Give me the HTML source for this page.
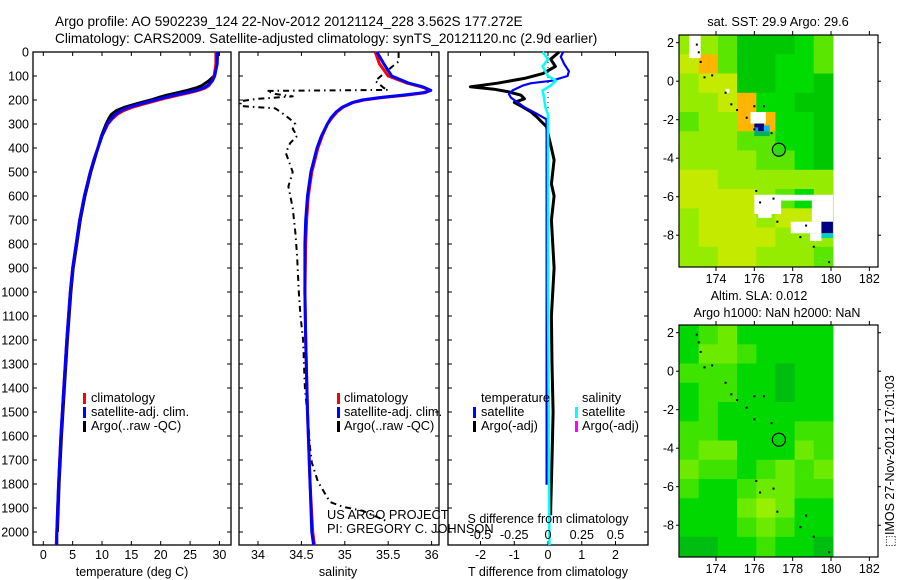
<!DOCTYPE html>
<html><head><meta charset="utf-8">
<style>
html,body{margin:0;padding:0;background:#fff;}
svg{display:block;font-family:"Liberation Sans",sans-serif;}
text{fill:#000;}
</style></head>
<body>
<svg id="fig" width="900" height="580" viewBox="0 0 900 580" xmlns="http://www.w3.org/2000/svg">
<text x="55" y="26" font-size="13.6">Argo profile: AO 5902239_124 22-Nov-2012 20121124_228 3.562S 177.272E</text>
<text x="55" y="43" font-size="13.6">Climatology: CARS2009. Satellite-adjusted climatology: synTS_20121120.nc (2.9d earlier)</text>
<g id="g"></g>
</svg>
<script>
// ---------- DATA ----------
const depthTicks = [0,100,200,300,400,500,600,700,800,900,1000,1100,1200,1300,1400,1500,1600,1700,1800,1900,2000];
const tempTicks = [0,5,10,15,20,25,30];
const salTicks = [34,34.5,35,35.5,36];
const salTickLabels = ["34","34.5","35","35.5","36"];
const tdiffTicks = [-2,-1,0,1,2];
const sdiffTicks = [-0.5,-0.25,0,0.25,0.5];
const sdiffTickLabels = ["-0.5","-0.25","0","0.25","0.5"];

const depthT = [0,50,100,120,140,150,160,170,180,190,200,215,230,245,260,280,300,350,400,450,500,600,700,800,900,1000,1200,1400,1600,1800,2000,2054];
const tempClim = [29.4,29.4,29.1,28.8,28.2,27.6,26.4,24.8,23.0,21.2,19.6,17.4,15.2,13.6,12.6,11.7,11.0,10.0,9.3,8.6,8.0,7.0,6.2,5.6,5.0,4.6,4.0,3.5,3.0,2.6,2.3,2.2];
const tempSat  = [29.6,29.6,29.2,28.8,28.0,27.3,26.0,24.3,22.4,20.6,19.0,16.8,14.6,13.2,12.3,11.5,10.9,10.0,9.3,8.6,8.0,7.0,6.2,5.6,5.0,4.6,4.0,3.5,3.0,2.6,2.3,2.3];
const depthTA = [0,50,100,120,140,150,160,170,180,190,200,215,230,245,260,280,300,350,400,450,500,600,700,800,900,1000,1200,1400,1600,1800,2000];
const tempArgo = [29.7,29.6,29.1,28.2,27.0,26.0,24.5,22.8,21.0,19.6,18.3,16.0,13.9,12.4,11.6,11.1,10.7,9.9,9.3,8.7,8.1,7.1,6.3,5.7,5.1,4.7,4.1,3.6,3.1,2.7,2.4];

const depthS = [0,50,100,130,145,160,170,180,190,200,210,230,250,275,300,350,400,500,600,700,800,1000,1200,1500,1800,2000,2054];
const salClim = [35.35,35.40,35.50,35.72,35.88,35.99,35.92,35.70,35.42,35.22,35.10,34.98,34.91,34.85,34.80,34.74,34.69,34.62,34.58,34.56,34.55,34.54,34.55,34.57,34.60,34.63,34.65];
const salSat  = [35.37,35.45,35.54,35.74,35.90,35.99,35.90,35.66,35.40,35.20,35.09,34.97,34.90,34.84,34.80,34.73,34.68,34.61,34.57,34.55,34.54,34.54,34.55,34.57,34.60,34.62,34.64];
const depthSA = [0,40,60,90,120,150,158,162,175,185,195,205,225,235,260,280,300,320,350,380,420,450,500,560,650,750,850,1000,1100,1200,1400,1550,1650,1710,1790,1875,1895,1912,1953];
const salArgo = [35.62,35.62,35.55,35.45,35.35,35.45,35.5,34.1,34.2,34.4,34.0,33.8,33.8,34.2,34.3,34.37,34.43,34.4,34.45,34.37,34.32,34.35,34.4,34.35,34.4,34.43,34.45,34.47,34.49,34.52,34.54,34.58,34.6,34.62,34.69,34.83,34.98,35.21,35.47];

const depthD = [0,20,50,80,100,120,130,140,150,160,175,190,210,230,260,280,300,400,600,800,1000,1200,1400,1600,1803];
const tdiffSat = [0.45,0.38,0.48,0.62,0.58,0.1,-0.5,-0.75,-0.9,-1.05,-1.16,-1.1,-0.9,-0.7,-0.3,-0.05,-0.04,-0.04,-0.04,-0.04,-0.04,-0.04,-0.04,-0.04,-0.04];
const depthTD = [0,30,60,90,110,130,145,155,165,180,195,210,225,250,275,290,310,340,400,450,550,600,700,900,1100,1300,1500,1700,1900,1930];
const tdiffArgo = [0.33,0.08,0.22,-0.15,-0.7,-1.5,-2.3,-1.6,-1.2,-0.8,-0.7,-1.0,-0.8,-0.5,-0.3,-0.2,-0.05,0.0,0.1,0.18,0.1,0.18,0.1,0.18,0.1,0.12,0.15,0.12,0.08,0.08];
const depthSD = [0,30,60,100,120,140,160,190,230,260,600,1000,1500,2054];
const sdiffSat = [-0.04,0.0,-0.04,0.0,0.06,0.02,-0.04,-0.03,-0.02,0.0,0.0,0.0,0.005,0.01];

// SST map (1-degree cells, rows from lat 2.4 down, cols from lon 172.1)
const sstColors = ["#00c800","#00dc00","#5ae600","#96ec00","#c4ea00","#ffb400"];
const sstGrid = [
 [3,3,2,0,0,0,1,2],
 [4,5,2,0,0,1,1,2],
 [3,4,4,0,0,1,1,0],
 [3,3,4,5,1,1,0,0],
 [2,3,3,5,5,1,1,0],
 [3,3,3,2,2,1,1,0],
 [3,3,3,3,2,2,1,0],
 [4,4,3,3,3,3,3,3],
 [4,4,4,4,3,2,1,3],
 [3,4,4,4,3,4,4,3],
 [3,4,4,4,4,3,3,3],
 [3,3,4,4,3,3,3,2]];
const slaColors = ["#00be10","#00d800","#3ee400","#6cea00","#96f000"];
const slaGrid = [
 [1,2,3,1,1,1,1,1],
 [1,3,3,2,1,1,1,1],
 [2,2,2,1,1,0,1,1],
 [1,2,2,1,1,0,1,1],
 [1,2,1,1,1,1,1,1],
 [2,2,1,1,1,1,2,2],
 [2,3,3,1,1,1,3,2],
 [3,2,2,1,2,3,2,3],
 [2,1,1,2,3,3,2,2],
 [1,1,1,3,4,3,1,1],
 [1,1,1,2,3,2,1,1],
 [0,0,1,1,2,1,1,0]];
const islandLon = [173.0,173.1,173.2,173.4,173.8,174.5,174.8,175.1,175.6,176.0,176.5,176.0,176.9,176.1,176.3,177.0,177.2,178.4,178.7,179.1,179.9];
const islandLat = [1.9,1.5,1.0,0.2,0.3,-0.6,-1.2,-1.5,-1.9,-1.3,-1.3,-2.5,-2.7,-5.7,-6.3,-6.1,-7.3,-8.1,-7.5,-8.6,-9.4];
const lonTicks = [174,176,178,180,182];
const latTicks = [2,0,-2,-4,-6,-8];

// ---------- DRAWING ----------
const NS="http://www.w3.org/2000/svg";
const G=document.getElementById('g');
function mk(tag,attrs,parent){const e=document.createElementNS(NS,tag);for(const k in attrs)e.setAttribute(k,attrs[k]);(parent||G).appendChild(e);return e;}
function txt(x,y,s,size,anchor,parent){const t=mk('text',{x:x,y:y,'font-size':size,'text-anchor':anchor||'start'},parent);t.textContent=s;return t;}

const TOP=52, BOT=545;
const yD=d=>TOP+d*0.24;
const xT=v=>43.3+v*5.87;
const xS=v=>258+(v-34)*86.8;
const xTD=v=>548+v*33.75;
const xSD=v=>548+v*135;

function panel(x0,x1,name){
  const r=mk('rect',{x:x0,y:TOP,width:x1-x0,height:BOT-TOP,fill:'none',stroke:'#000','stroke-width':1.3});
  
  
  depthTicks.forEach(d=>{mk('line',{x1:x0,x2:x0+4,y1:yD(d),y2:yD(d),stroke:'#000'});mk('line',{x1:x1-4,x2:x1,y1:yD(d),y2:yD(d),stroke:'#000'});});
}
function line(xs,ds,xf,color,w,name,dash){
  const pts=xs.map((v,i)=>xf(v).toFixed(1)+','+yD(ds[i]).toFixed(1)).join(' ');
  const p=mk('polyline',{points:pts,fill:'none',stroke:color,'stroke-width':w,'stroke-linejoin':'round'});
  if(dash)p.setAttribute('stroke-dasharray',dash);
  
  
}

// panel 1 temperature
panel(33,231,'temperature-panel');
depthTicks.forEach(d=>{const t=txt(29,yD(d)+4.5,String(d),12.5,'end');});
tempTicks.forEach(v=>{mk('line',{x1:xT(v),x2:xT(v),y1:BOT,y2:BOT-4,stroke:'#000'});mk('line',{x1:xT(v),x2:xT(v),y1:TOP,y2:TOP+4,stroke:'#000'});
  const t=txt(xT(v),559,String(v),12.5,'middle');});
{const t=txt(132,576,'temperature (deg C)',12.5,'middle');}
line(tempArgo,depthTA,xT,'#000',3,'temp-argo-line');
line(tempClim,depthT,xT,'#f00',3,'temp-climatology-line');
line(tempSat,depthT,xT,'#00f',3,'temp-satellite-line');

// panel 2 salinity
panel(239,439,'salinity-panel');
salTicks.forEach((v,i)=>{mk('line',{x1:xS(v),x2:xS(v),y1:BOT,y2:BOT-4,stroke:'#000'});mk('line',{x1:xS(v),x2:xS(v),y1:TOP,y2:TOP+4,stroke:'#000'});
  const t=txt(xS(v),559,salTickLabels[i],12.5,'middle');});
{const t=txt(338,576,'salinity',12.5,'middle');}
line(salArgo,depthSA,xS,'#000',2,'sal-argo-line','6,4,1.5,4');
line(salClim,depthS,xS,'#f00',3,'sal-climatology-line');
line(salSat,depthS,xS,'#00f',3,'sal-satellite-line');

// panel 3 differences
panel(448,648,'difference-panel');
tdiffTicks.forEach(v=>{mk('line',{x1:xTD(v),x2:xTD(v),y1:BOT,y2:BOT-4,stroke:'#000'});mk('line',{x1:xTD(v),x2:xTD(v),y1:TOP,y2:TOP+4,stroke:'#000'});
  const t=txt(xTD(v),559,String(v),12.5,'middle');});
mk('line',{x1:xTD(0),x2:xTD(0),y1:yD(0),y2:yD(540),stroke:'#000','stroke-width':1,'stroke-dasharray':'1,4'});
line(tdiffArgo,depthTD,xTD,'#000',3,'tdiff-argo-line');
line(tdiffSat,depthD,xTD,'#00f',2.2,'tdiff-satellite-line');
line(sdiffSat,depthSD,xSD,'#0ff',2.5,'sdiff-satellite-line');
sdiffTicks.forEach((v,i)=>{const t=txt(xSD(v),539,sdiffTickLabels[i],12.5,'middle');});
{const t=txt(548,523,'S difference from climatology',12.5,'middle');}
{const t=txt(548,576,'T difference from climatology',12.5,'middle');}

// legends
function legItem(mx,tx,y,color,label,name){
  if(color)mk('rect',{x:mx,y:y-9,width:3,height:11,fill:color});
  const t=txt(tx,y,label,12.8);
}
legItem(83,91,402,'#f00','climatology','legend-climatology');
legItem(83,91,416,'#00f','satellite-adj. clim.','legend-satellite-adj');
legItem(83,91,430,'#000','Argo(..raw -QC)','legend-argo');
legItem(337,344,402,'#f00','climatology','legend-climatology-sal');
legItem(337,344,416,'#00f','satellite-adj. clim.','legend-satellite-adj-sal');
legItem(337,344,430,'#000','Argo(..raw -QC)','legend-argo-sal');
legItem(0,481,402,null,'temperature','legend-temperature-header');
legItem(0,582,402,null,'salinity','legend-salinity-header');
legItem(473,481,416,'#00f','satellite','legend-temp-satellite');
legItem(473,481,430,'#000','Argo(-adj)','legend-temp-argo');
legItem(575,582,416,'#0ff','satellite','legend-sal-satellite');
legItem(575,582,430,'#f0f','Argo(-adj)','legend-sal-argo');
{const t=txt(327,519,'US ARGO PROJECT',12.8);}
{const t=txt(327,533,'PI: GREGORY C. JOHNSON',12.8);}

// maps
function mapPanel(top,grid,colors,name,fillCircle){
  const L=679,R=878,B=top+232;
  const xL=lon=>716+(lon-174)*19.17;
  const yL=lat=>top+(2.4-lat)*19.25;
  const g=mk('g',{});
  
  
  grid.forEach((row,r)=>row.forEach((c,k)=>{
    const lon0=172.1+k, lat0=2.4-r;
    const cell=mk('rect',{x:xL(lon0).toFixed(1),y:yL(lat0).toFixed(1),width:(xL(lon0+1)-xL(lon0)+0.5).toFixed(1),height:(yL(lat0-1)-yL(lat0)+0.5).toFixed(1),fill:colors[c]},g);
    
    
  }));
  if(fillCircle){
    const patch=(a,b,c,d,col)=>mk('rect',{x:xL(a),y:yL(c),width:xL(b)-xL(a),height:yL(d)-yL(c),fill:col},g);
    patch(172.6,173.2,2.4,1.2,'#fff');patch(174.5,174.7,-0.4,-0.6,'#fff');
    patch(175.8,176.6,-1.6,-2.2,'#fff');patch(176.0,176.5,-2.2,-2.6,'#000080');
    patch(176.0,176.2,-2.4,-2.6,'#1090ff');patch(176.5,176.8,-2.3,-2.6,'#10b0ff');patch(176.0,176.8,-2.6,-2.85,'#00b060');
    patch(176.0,177.4,-5.9,-6.9,'#fff');patch(176.2,176.9,-6.9,-7.1,'#fff');patch(177.1,180.1,-5.9,-6.2,'#fff');
    patch(179.0,180.1,-6.2,-7.3,'#fff');patch(177.9,180.1,-7.3,-7.9,'#fff');patch(178.9,179.5,-7.9,-8.3,'#fff');
    patch(179.5,180.1,-7.3,-7.9,'#000080');patch(179.5,180.1,-7.9,-8.15,'#00d0c0');
  }
  islandLon.forEach((lo,i)=>{const d=mk('rect',{x:xL(lo)-1,y:yL(islandLat[i])-1,width:2,height:2,fill:'#000'},g);});
  const c=mk('circle',{cx:xL(177.28),cy:yL(-3.56),r:6.5,fill:fillCircle?'#30dc10':'none',stroke:'#000','stroke-width':1.2},g);
  
  mk('rect',{x:L,y:top,width:R-L,height:B-top,fill:'none',stroke:'#000','stroke-width':1.2});
  lonTicks.forEach(v=>{mk('line',{x1:xL(v),x2:xL(v),y1:top,y2:top-4,stroke:'#000'});mk('line',{x1:xL(v),x2:xL(v),y1:B,y2:B+4,stroke:'#000'});
    const t=txt(xL(v),B+16,String(v),12.5,'middle');});
  latTicks.forEach(v=>{mk('line',{x1:L,x2:L-3,y1:yL(v),y2:yL(v),stroke:'#000'});mk('line',{x1:R,x2:R+3,y1:yL(v),y2:yL(v),stroke:'#000'});
    const t=txt(674,yL(v)+4.5,String(v),12.5,'end');});
}
mapPanel(35,sstGrid,sstColors,'sst-map',true);
mapPanel(325,slaGrid,slaColors,'sla-map',false);
{const t=txt(778,26,'sat. SST: 29.9 Argo: 29.6',12.8,'middle');}
{const t=txt(759,300,'Altim. SLA: 0.012',12.5,'middle');}
{const t=txt(777,317,'Argo h1000: NaN h2000: NaN',12.5,'middle');}
{const t=txt(0,0,'\u2B1AIMOS 27-Nov-2012 17:01:03',12.5,'middle');t.setAttribute('transform','translate(894,461) rotate(-90)');}
</script>
</body></html>
